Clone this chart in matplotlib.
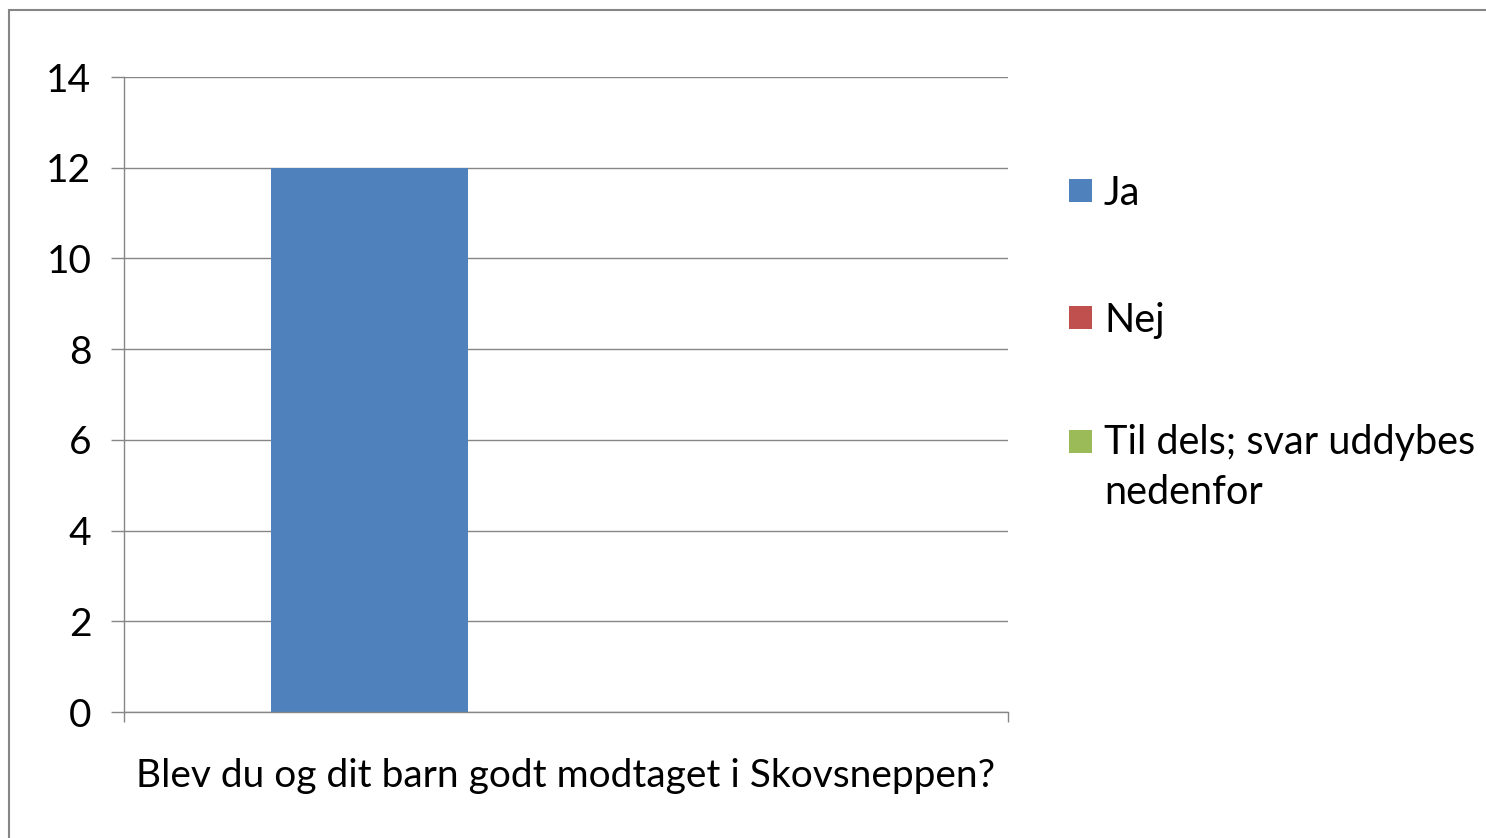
import matplotlib
matplotlib.use("Agg")
import matplotlib.pyplot as plt
from matplotlib.patches import Rectangle
import numpy as np

# Data
category = "Blev du og dit barn godt modtaget i Skovsneppen?"
series = ["Ja", "Nej", "Til dels; svar uddybes\nnedenfor"]
values = [12, 0, 0]
colors = ["#4F81BD", "#C0504D", "#9BBB59"]
yticks = [0, 2, 4, 6, 8, 10, 12, 14]

plt.rcParams["font.family"] = ["Lato", "DejaVu Sans"]

fig = plt.figure(figsize=(14.86, 8.38), dpi=100)
ax = fig.add_axes([124 / 1486, 126 / 838, 884 / 1486, 635 / 838])

# Excel-style clustered bars: gap width 150%
n = len(series)
w = 1 / (n + 1.5)
offsets = (np.arange(n) - (n - 1) / 2) * w
for i in range(n):
    ax.bar(offsets[i], values[i], width=w, color=colors[i], label=series[i], zorder=3)

ax.set_xlim(-0.5, 0.5)
ax.set_ylim(0, 14)
ax.set_yticks(yticks)
ax.set_yticklabels([str(t) for t in yticks], fontsize=28)
ax.set_xticks([0])
ax.set_xticklabels([category], fontsize=28)
ax.set_xticks([-0.5, 0.5], minor=True)
ax.tick_params(axis="x", which="major", length=0, pad=33)
ax.tick_params(axis="x", which="minor", length=7, color="#868686", width=1)
ax.tick_params(axis="y", length=9.5, color="#868686", width=1, pad=14)
ax.grid(axis="y", color="#868686", linewidth=1, zorder=0)
for s in ["top", "right"]:
    ax.spines[s].set_visible(False)
for s in ["left", "bottom"]:
    ax.spines[s].set_color("#868686")
    ax.spines[s].set_linewidth(1)
    ax.spines[s].set_zorder(4)

# legend drawn by hand so the box lines up with the first text line
box_y = [191, 318, 442]
text_base = [205, 332, 456]
line_h = 48
for i in range(n):
    y = 1 - box_y[i] / 838
    fig.add_artist(Rectangle((1069 / 1486, y - 11.5 / 838), 23 / 1486, 23 / 838,
                             transform=fig.transFigure, facecolor=colors[i], edgecolor="none"))
    # va="baseline" pins the last line, so shift by the extra lines
    extra = series[i].count("\n") * line_h
    fig.text(1104 / 1486, 1 - (text_base[i] + extra) / 838, series[i], fontsize=28.5,
             va="baseline", ha="left", linespacing=1.43)

# outer chart border
fig.add_artist(Rectangle((9 / 1486, -0.05), 1.1, 0.988 + 0.05, transform=fig.transFigure,
                         fill=False, edgecolor="#868686", linewidth=1.5))

fig.savefig("out.png", dpi=100)
